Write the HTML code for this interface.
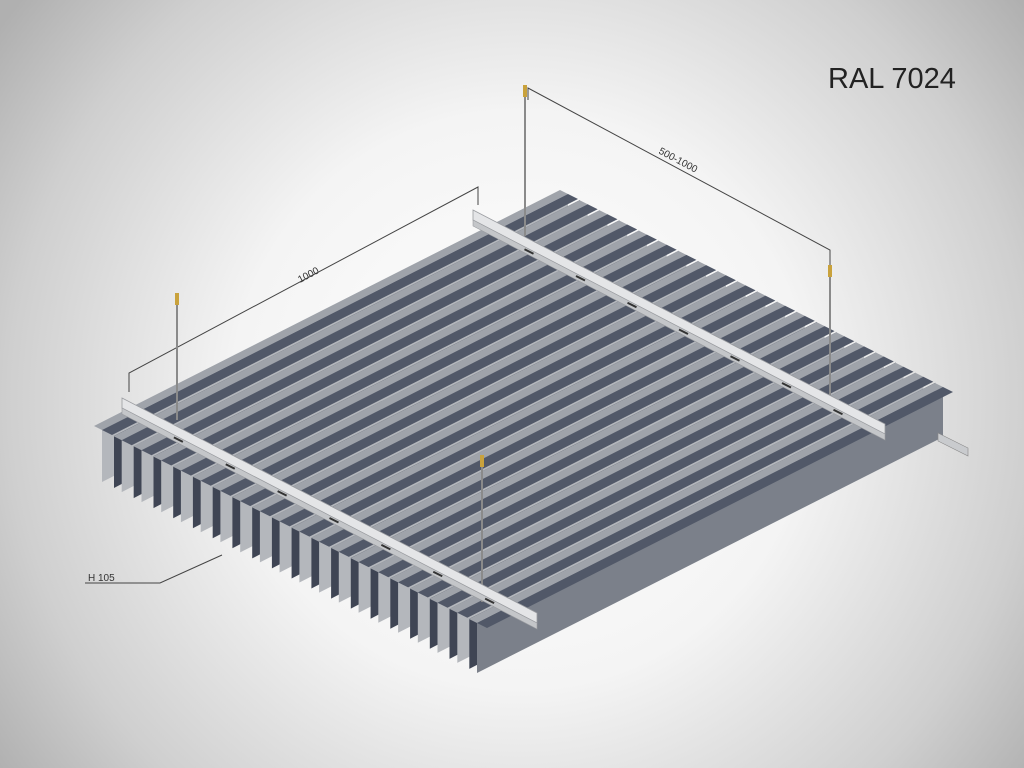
<!DOCTYPE html>
<html><head><meta charset="utf-8"><style>
html,body{margin:0;padding:0;width:1024px;height:768px;overflow:hidden}
svg{display:block}
</style></head><body>
<svg id="s" width="1024" height="768" viewBox="0 0 1024 768" xmlns="http://www.w3.org/2000/svg">
<defs>
<radialGradient id="bg" cx="520" cy="400" r="640" gradientUnits="userSpaceOnUse">
<stop offset="0" stop-color="#ffffff"/><stop offset="0.45" stop-color="#f4f4f4"/><stop offset="0.8" stop-color="#cfcfcf"/><stop offset="1" stop-color="#b0b0b0"/>
</radialGradient>
</defs>
<rect width="1024" height="768" fill="url(#bg)"/>
<text x="828" y="88" font-family="Liberation Sans, sans-serif" font-size="29" fill="#222">RAL 7024</text>
<g id="slats"></g>
<polygon points="938,433 968,448 968,456 938,441" fill="#c9cbce" stroke="#888" stroke-width="0.6"/>
<g stroke="#444" stroke-width="1" fill="none">
<polyline points="129,392 129,373 478,187 478,205"/>
<polyline points="528,100 528,88 830,250 830,268"/>
<polyline points="85,583 160,583 222,555"/>
</g>
<text x="0" y="0" font-family="Liberation Sans, sans-serif" font-size="10" fill="#333" transform="translate(300,283) rotate(-28)">1000</text>
<text x="0" y="0" font-family="Liberation Sans, sans-serif" font-size="10" fill="#333" transform="translate(658,153) rotate(28)">500-1000</text>
<text x="88" y="581" font-family="Liberation Sans, sans-serif" font-size="10" fill="#333">H 105</text>
<g id="topg"></g>
</svg>
<script>
(function(){
var NS="http://www.w3.org/2000/svg";
function el(p,t,a){var e=document.createElementNS(NS,t);for(var k in a)e.setAttribute(k,a[k]);p.appendChild(e);return e;}
var g=document.getElementById('slats'),tg=document.getElementById('topg');
var A=[102,430],F=[375,193],S=[466,-236],N=20,h=52;
function pt(p){return p[0].toFixed(1)+','+p[1].toFixed(1);}
for(var i=0;i<N;i++){
 var t=i/(N-1),P=[A[0]+F[0]*t,A[1]+F[1]*t],Q=[P[0]+S[0],P[1]+S[1]];
 var hh=h-2*t;
 var last=i==N-1;
 el(g,'polygon',{points:[pt(P),pt(Q),pt([Q[0],Q[1]+50]),pt([P[0],P[1]+hh])].join(' '),fill:last?'#7b808a':'#b4b7bc'});
 if(!last){
  el(g,'polygon',{points:[pt([P[0]+12,P[1]+6]),pt([Q[0]+12,Q[1]+6]),pt([Q[0]+12,Q[1]+50]),pt([P[0]+12,P[1]+hh+6])].join(' '),fill:'#3f4554'});
 }
 var f=[-8,-4];
 el(g,'polygon',{points:[pt(P),pt(Q),pt([Q[0]+f[0],Q[1]+f[1]]),pt([P[0]+f[0],P[1]+f[1]])].join(' '),fill:'#9fa3aa'});
 el(g,'polygon',{points:[pt(P),pt(Q),pt([Q[0]+10,Q[1]+5]),pt([P[0]+10,P[1]+5])].join(' '),fill:'#515868'});
}
var rods=[[177,293,420],[482,455,602],[525,85,236],[830,265,410]];
rods.forEach(function(r){el(tg,'line',{x1:r[0],y1:r[1]+10,x2:r[0],y2:r[2],stroke:'#8a8a8a','stroke-width':2});
 el(tg,'rect',{x:r[0]-2,y:r[1],width:4,height:12,fill:'#c9a23c'});});
function rail(x1,y1,x2,y2){
 el(tg,'polygon',{points:x1+','+(y1-4)+' '+x2+','+(y2-4)+' '+x2+','+(y2+6)+' '+x1+','+(y1+6),fill:'#e4e5e7',stroke:'#9a9ca0','stroke-width':0.8});
 el(tg,'polygon',{points:x1+','+(y1+6)+' '+x2+','+(y2+6)+' '+x2+','+(y2+12)+' '+x1+','+(y1+12),fill:'#c4c6c9',stroke:'#9a9ca0','stroke-width':0.6});
 for(var k=1;k<8;k++){var t=k/8;el(tg,'line',{x1:x1+(x2-x1)*t,y1:y1+(y2-y1)*t+8.5,x2:x1+(x2-x1)*t+9,y2:y1+(y2-y1)*t+13,stroke:'#333','stroke-width':2});}
}
rail(122,402,537,617);
rail(473,214,885,428);
})();
</script>
</body></html>
